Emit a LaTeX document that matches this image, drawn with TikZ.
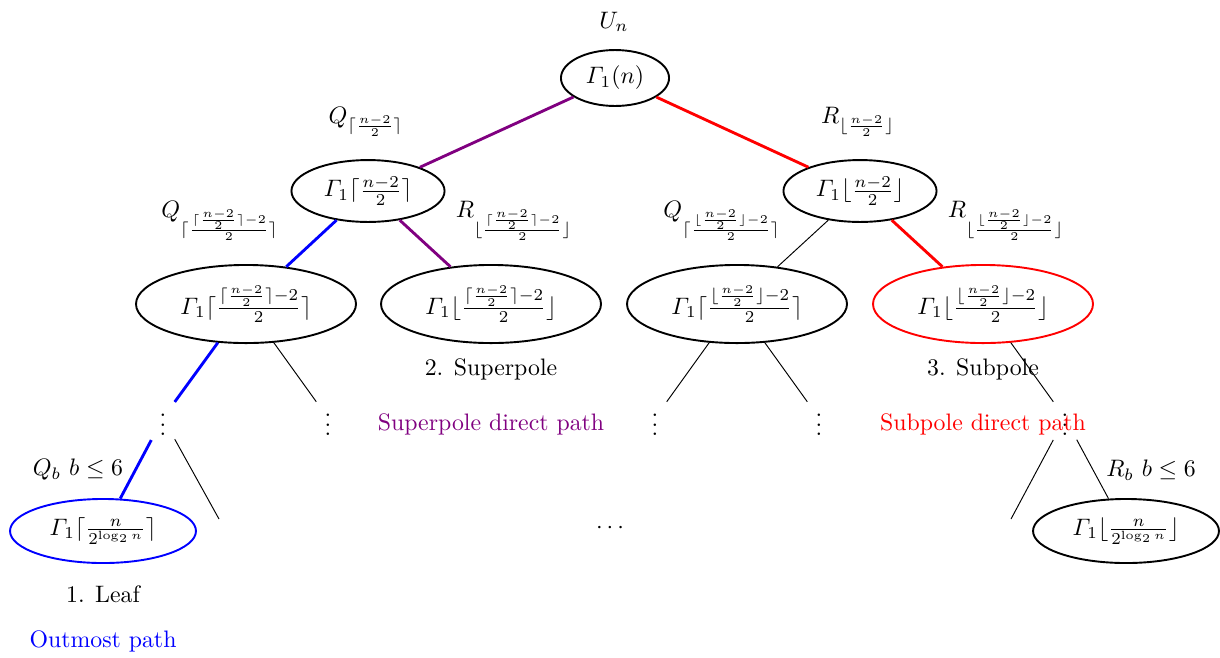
\documentclass[tikz,border=0pt]{standalone}
\usepackage{amsmath}
\usetikzlibrary{shapes.geometric}
\definecolor{mypurple}{RGB}{128,0,128}
\begin{document}
\begin{tikzpicture}[x=0.42pt,y=-0.42pt,
  ell/.style={draw,ellipse,thick,inner sep=0pt},
  e0/.style={ell,minimum width=45.4pt,minimum height=23.5pt},
  e1/.style={ell,minimum width=64.3pt,minimum height=26pt},
  e2/.style={ell,minimum width=92.4pt,minimum height=32.8pt},
  e3/.style={ell,minimum width=78.1pt,minimum height=26.9pt},
  cedge/.style={line width=1.2pt},
  tedge/.style={line width=0.4pt}]
\useasboundingbox (0,0) rectangle (1220,657);
% nodes
\node (Un) at (614,22) {$U_n$};
\node[e0] (r) at (615,78) {$\varGamma_1(n)$};
\node[e1] (a) at (368,191) {$\varGamma_1\lceil\frac{n-2}{2}\rceil$};
\node[e1] (b) at (860,191) {$\varGamma_1\lfloor\frac{n-2}{2}\rfloor$};
\node[e2] (aa) at (246,304) {$\varGamma_1\lceil\frac{\lceil\frac{n-2}{2}\rceil-2}{2}\rceil$};
\node[e2] (ab) at (491,304) {$\varGamma_1\lfloor\frac{\lceil\frac{n-2}{2}\rceil-2}{2}\rfloor$};
\node[e2] (ba) at (737,304) {$\varGamma_1\lceil\frac{\lfloor\frac{n-2}{2}\rfloor-2}{2}\rceil$};
\node[e2,draw=red] (bb) at (983,304) {$\varGamma_1\lfloor\frac{\lfloor\frac{n-2}{2}\rfloor-2}{2}\rfloor$};
\node[e3,draw=blue] (la) at (103,531) {$\varGamma_1\lceil\frac{n}{2^{\log_2 n}}\rceil$};
\node[e3] (lb) at (1126,531) {$\varGamma_1\lfloor\frac{n}{2^{\log_2 n}}\rfloor$};
\node (d1) at (163,418) {$\vdots$};
\node (d2) at (328,418) {$\vdots$};
\node (d3) at (655,418) {$\vdots$};
\node (d4) at (819,418) {$\vdots$};
\node (d5) at (1065,418) {$\vdots$};
\node (cd) at (612,528) {$\cdots$};
\coordinate (x1) at (219,519);
\coordinate (x2) at (1011,519);
% edge labels
\node (lq1) at (366,122) {$Q_{\lceil\frac{n-2}{2}\rceil}$};
\node (lr1) at (858,122) {$R_{\lfloor\frac{n-2}{2}\rfloor}$};
\node (lq2) at (220,221) {$Q_{\lceil\frac{\lceil\frac{n-2}{2}\rceil-2}{2}\rceil}$};
\node (lr2) at (514,221) {$R_{\lfloor\frac{\lceil\frac{n-2}{2}\rceil-2}{2}\rfloor}$};
\node (lq3) at (722,221) {$Q_{\lceil\frac{\lfloor\frac{n-2}{2}\rfloor-2}{2}\rceil}$};
\node (lr3) at (1006,221) {$R_{\lfloor\frac{\lfloor\frac{n-2}{2}\rfloor-2}{2}\rfloor}$};
\node (lqb) at (78,470) {$Q_b\ b\leq 6$};
\node (lrb) at (1151,470) {$R_b\ b\leq 6$};
% texts
\node (t2) at (491,369) {2. Superpole};
\node (t3) at (983,369) {3. Subpole};
\node (t1) at (103,594) {1. Leaf};
\node[text=blue] (p1) at (103,641) {Outmost path};
\node[text=mypurple] (p2) at (491,424) {Superpole direct path};
\node[text=red] (p3) at (983,424) {Subpole direct path};
% edges
\draw[cedge,mypurple] (r) -- (a);
\draw[cedge,red] (r) -- (b);
\draw[cedge,blue] (a) -- (aa);
\draw[cedge,mypurple] (a) -- (ab);
\draw[tedge] (b) -- (ba);
\draw[cedge,red] (b) -- (bb);
\draw[cedge,blue] (aa) -- (d1);
\draw[tedge] (aa) -- (d2);
\draw[tedge] (ba) -- (d3);
\draw[tedge] (ba) -- (d4);
\draw[tedge] (bb) -- (d5);
\draw[cedge,blue] (d1) -- (la);
\draw[tedge] (d1) -- (x1);
\draw[tedge] (d5) -- (x2);
\draw[tedge] (d5) -- (lb);
\end{tikzpicture}
\end{document}
